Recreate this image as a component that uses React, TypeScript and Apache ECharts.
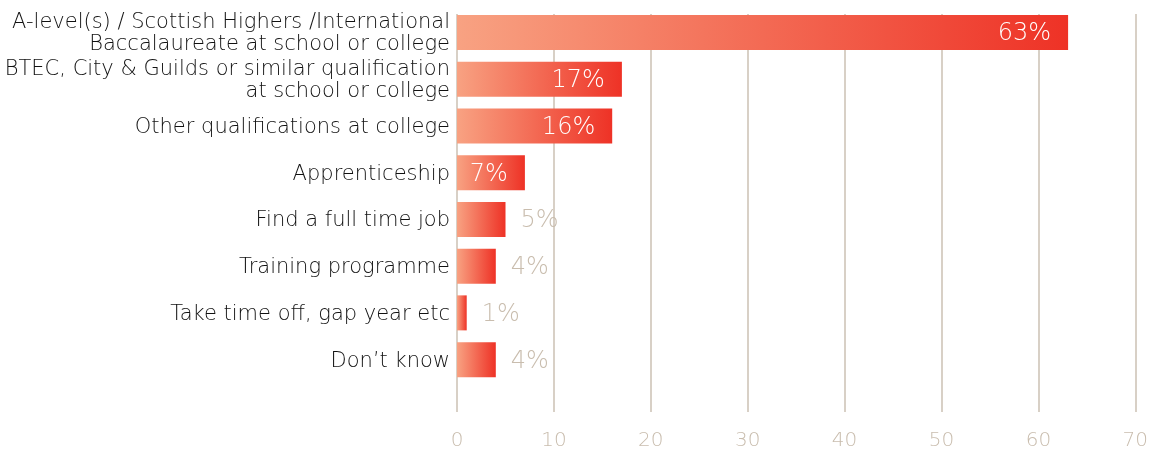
import React, { useEffect, useRef } from "react";
import * as echarts from "echarts";

const categories = [
  "A-level(s) / Scottish Highers /International\nBaccalaureate at school or college",
  "BTEC, City & Guilds or similar qualification\nat school or college",
  "Other qualifications at college",
  "Apprenticeship",
  "Find a full time job",
  "Training programme",
  "Take time off, gap year etc",
  "Don’t know",
];
const values = [63, 17, 16, 7, 5, 4, 1, 4];
const insideLabel = [true, true, true, true, false, false, false, false];
const xTicks = { min: 0, max: 70, interval: 10 };

const FONT = "DejaVu Sans";

export default function App() {
  const ref = useRef<HTMLDivElement>(null);
  useEffect(() => {
    if (!ref.current) return;
    const chart = echarts.init(ref.current, undefined, { renderer: "svg" });
    const gradient = new echarts.graphic.LinearGradient(0, 0, 1, 0, [
      { offset: 0, color: "#f8a282" },
      { offset: 1, color: "#ee3226" },
    ]);
    chart.setOption({
      animation: false,
      grid: [
        { left: 457, right: 15, top: 9, height: 374, containLabel: false },
        { left: 457, right: 15, top: 14, bottom: 40, containLabel: false },
      ],
      xAxis: [
        {
          gridIndex: 0,
          type: "value",
          min: xTicks.min,
          max: xTicks.max,
          interval: xTicks.interval,
          show: false,
        },
        {
          gridIndex: 1,
          type: "value",
          min: xTicks.min,
          max: xTicks.max,
          interval: xTicks.interval,
          axisLine: { show: false },
          axisTick: { show: false },
          splitLine: { show: true, lineStyle: { color: "#cbc1b3", width: 1.5 } },
          axisLabel: {
            color: "#c9bdae",
            fontSize: 20,
            fontFamily: FONT,
            fontWeight: 200,
            margin: 17,
          },
        },
      ],
      yAxis: [
        {
          gridIndex: 0,
          type: "category",
          inverse: true,
          data: categories,
          axisLine: { show: false },
          axisTick: { show: false },
          splitLine: { show: false },
          axisLabel: {
            color: "#111111",
            fontSize: 21,
            fontFamily: FONT,
            fontWeight: 200,
            lineHeight: 22,
            margin: 7,
            align: "right",
          },
        },
        {
          gridIndex: 1,
          type: "value",
          show: false,
          splitLine: { show: false },
        },
      ],
      series: [
        {
          type: "bar",
          xAxisIndex: 0,
          yAxisIndex: 0,
          barWidth: 35,
          data: values.map((v, i) => ({
            value: v,
            label: insideLabel[i]
              ? { position: "insideRight", color: "#ffffff", distance: 17 }
              : { position: "right", color: "#c9bdae", distance: 15 },
          })),
          itemStyle: { color: gradient },
          label: {
            show: true,
            formatter: "{c}%",
            fontSize: 24,
            fontFamily: FONT,
            fontWeight: 200,
          },
          z: 3,
        },
      ],
    });
    return () => chart.dispose();
  }, []);
  return (
    <div
      ref={ref}
      style={{ position: "fixed", left: 0, top: 0, width: 1151, height: 452, overflow: "hidden" }}
    />
  );
}
